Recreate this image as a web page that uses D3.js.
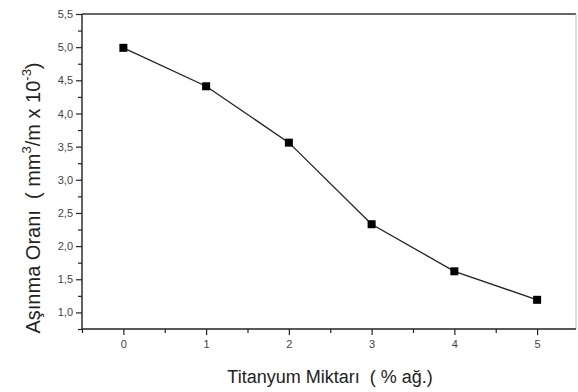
<!DOCTYPE html>
<html><head><meta charset="utf-8">
<script src="https://cdn.jsdelivr.net/npm/d3@7"></script>
<style>body{margin:0;background:#fff}svg{display:block}text{font-family:"Liberation Sans",Arial,sans-serif;white-space:pre}</style>
</head><body>
<script>
const titanium = [0, 1, 2, 3, 4, 5];
const wearRate = [4.99, 4.41, 3.56, 2.33, 1.62, 1.19];
const xTicks = [0, 1, 2, 3, 4, 5];
const yTicks = [1.0, 1.5, 2.0, 2.5, 3.0, 3.5, 4.0, 4.5, 5.0, 5.5];

const W = 578, H = 392;
const svg = d3.select("body").append("svg").attr("width", W).attr("height", H);
const L = 82, R = 576, T = 14, B = 329;
const x = d3.scaleLinear().domain([-0.5, 5.47]).range([L, R]);
const y = d3.scaleLinear().domain([0.75, 5.5]).range([B, T]);
const fmt = d => d3.format(".1f")(d).replace(".", ",");

// frame
svg.append("line").attr("x1", L).attr("x2", R).attr("y1", T).attr("y2", T).attr("stroke", "#333").attr("stroke-width", 1.6);
svg.append("line").attr("x1", R).attr("x2", R).attr("y1", T).attr("y2", B).attr("stroke", "#bbb").attr("stroke-width", 1);

const xAxis = svg.append("g").attr("transform", `translate(0,${B})`)
  .call(d3.axisBottom(x).tickValues(xTicks).tickFormat(d3.format("d")).tickSize(6).tickPadding(5));
const xMinor = svg.append("g").attr("transform", `translate(0,${B})`)
  .call(d3.axisBottom(x).tickValues([-0.5, 0.5, 1.5, 2.5, 3.5, 4.5]).tickFormat("").tickSize(4));
const yAxis = svg.append("g").attr("transform", `translate(${L},0)`)
  .call(d3.axisLeft(y).tickValues(yTicks).tickFormat(fmt).tickSize(6).tickPadding(3));
const yMinor = svg.append("g").attr("transform", `translate(${L},0)`)
  .call(d3.axisLeft(y).tickValues([0.75, 1.25, 1.75, 2.25, 2.75, 3.25, 3.75, 4.25, 4.75, 5.25]).tickFormat("").tickSize(4));
[xAxis, xMinor, yAxis, yMinor].forEach(g => {
  g.select(".domain").attr("stroke", "#222").attr("stroke-width", 1.4);
  g.selectAll(".tick line").attr("stroke", "#222").attr("stroke-width", 1.2);
  g.selectAll(".tick text").attr("fill", "#444").style("font-size", "11px");
});
xMinor.select(".domain").remove(); yMinor.select(".domain").remove();
xAxis.select(".domain").attr("d", `M${L},0H${R}`);
yAxis.select(".domain").attr("d", `M0,${B}V${T}`);

// line + markers
const pts = titanium.map((t, i) => [t, wearRate[i]]);
svg.append("path").datum(pts)
  .attr("d", d3.line().x(d => x(d[0])).y(d => y(d[1])))
  .attr("fill", "none").attr("stroke", "#222").attr("stroke-width", 1.3);
svg.selectAll("rect.m").data(pts).enter().append("rect").attr("class", "m")
  .attr("x", d => x(d[0]) - 4).attr("y", d => y(d[1]) - 4)
  .attr("width", 8).attr("height", 8).attr("fill", "#000");

// axis titles
svg.append("text").attr("x", 330).attr("y", 383).attr("text-anchor", "middle")
  .attr("fill", "#222").style("font-size", "18px").text("Titanyum Miktarı  ( % ağ.)");

const yt = svg.append("text").attr("transform", "translate(40,198) rotate(-90)")
  .attr("text-anchor", "middle").attr("fill", "#222").style("font-size", "20px");
yt.append("tspan").text("Aşınma Oranı  ( mm");
yt.append("tspan").attr("dy", -9).style("font-size", "13px").text("3");
yt.append("tspan").attr("dy", 9).text("/m x 10");
yt.append("tspan").attr("dy", -9).style("font-size", "13px").text("-3");
yt.append("tspan").attr("dy", 9).text(")");
</script>
</body></html>
